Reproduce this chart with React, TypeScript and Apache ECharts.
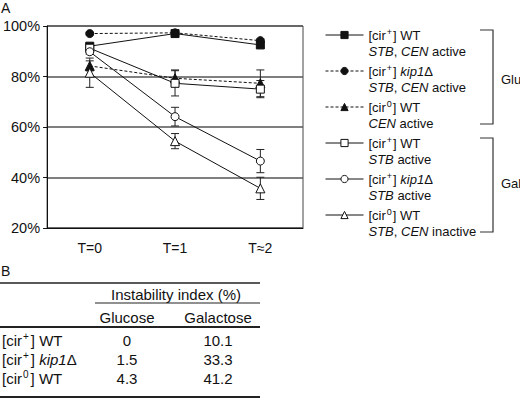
import { useEffect, useRef } from 'react';
import * as echarts from 'echarts';

const FONT = '"Liberation Sans", Arial, sans-serif';

// panel A
const timePoints = ['T=0', 'T=1', 'T≈2'];
const seriesNames = ['wtGlu', 'kipGlu', 'cir0Glu', 'wtGal', 'kipGal', 'cir0Gal'];
const wtGlu = [92, 97, 92.5];
const kipGlu = [97, 97.3, 94.2];
const cir0Glu = [84.2, 79.3, 77.3];
const wtGal = [91.2, 77.3, 75];
const kipGal = [89.8, 64.1, 46.5];
const cir0Gal = [81.5, 54.4, 35.7];
const wtGluErr = [1, 0.5, 1];
const kipGluErr = [0.5, 0.5, 0.7];
const cir0GluErr = [2, 3.3, 5.3];
const wtGalErr = [1, 5, 3.4];
const kipGalErr = [1, 3.7, 4.6];
const cir0GalErr = [5.8, 3, 4.4];

const legendFirst = [
  '[cir{sup|+}] WT',
  '[cir{sup|+}] {i|kip1}Δ',
  '[cir{sup|0}] WT',
  '[cir{sup|+}] WT',
  '[cir{sup|+}] {i|kip1}Δ',
  '[cir{sup|0}] WT',
];
const legendSecond = [
  '{i|STB}, {i|CEN} active',
  '{i|STB}, {i|CEN} active',
  '{i|CEN} active',
  '{i|STB} active',
  '{i|STB} active',
  '{i|STB}, {i|CEN} inactive',
];

// panel B
const tableRows = ['[cir{sup|+}] WT', '[cir{sup|+}] {i|kip1}Δ', '[cir{sup|0}] WT'];
const glucoseIdx = ['0', '1.5', '4.3'];
const galactoseIdx = ['10.1', '33.3', '41.2'];

export default function App() {
  const chartRef = useRef<HTMLDivElement>(null);

  useEffect(() => {
    if (!chartRef.current) return;
    const chart = echarts.init(chartRef.current, undefined, { renderer: 'svg' });

    const values = [wtGlu, kipGlu, cir0Glu, wtGal, kipGal, cir0Gal];
    const errors = [wtGluErr, kipGluErr, cir0GluErr, wtGalErr, kipGalErr, cir0GalErr];
    const symbols = ['rect', 'circle', 'triangle', 'rect', 'circle', 'triangle'];
    const filled = [true, true, true, false, false, false];
    const dashed = [false, true, true, false, false, false];

    const lineSeries = seriesNames.map((name, k) => ({
      name,
      type: 'line',
      data: values[k],
      symbol: symbols[k],
      symbolSize: symbols[k] === 'triangle' ? 9 : 8,
      showAllSymbol: true,
      z: 3,
      lineStyle: { color: '#111', width: 1, type: dashed[k] ? [3, 2] : 'solid' },
      itemStyle: {
        color: filled[k] ? '#111' : '#fff',
        borderColor: '#111',
        borderWidth: 1,
      },
      emphasis: { disabled: true },
    }));

    const errorSeries = seriesNames.map((name, k) => ({
      name: name + 'Err',
      type: 'custom',
      z: 2,
      data: values[k].map((v, i) => [i, v - errors[k][i], v + errors[k][i]]),
      encode: { x: 0, y: [1, 2] },
      renderItem: (_params: any, api: any) => {
        const lo = api.coord([api.value(0), api.value(1)]);
        const hi = api.coord([api.value(0), api.value(2)]);
        const w = 4;
        const style = { stroke: '#222', lineWidth: 1 };
        return {
          type: 'group',
          children: [
            { type: 'line', shape: { x1: lo[0], y1: lo[1], x2: hi[0], y2: hi[1] }, style },
            { type: 'line', shape: { x1: lo[0] - w, y1: lo[1], x2: lo[0] + w, y2: lo[1] }, style },
            { type: 'line', shape: { x1: hi[0] - w, y1: hi[1], x2: hi[0] + w, y2: hi[1] }, style },
          ],
        };
      },
    }));

    const txt = { fontFamily: FONT, fontSize: 15, fill: '#111' };
    const rich = {
      i: { fontFamily: FONT, fontSize: 15, fontStyle: 'italic', fill: '#111', lineHeight: 18 },
      sup: { fontFamily: FONT, fontSize: 10, fill: '#111', lineHeight: 10, verticalAlign: 'top', padding: [0, 2, 0, 1] },
    };

    const graphic: any[] = [
      { type: 'text', x: 1, y: 1, style: { ...txt, fontSize: 14, text: 'A' } },
      { type: 'text', x: 1, y: 264, style: { ...txt, fontSize: 14, text: 'B' } },
      // brackets
      {
        type: 'polyline',
        shape: { points: [[480, 30], [493, 30], [493, 124], [480, 124]] },
        style: { stroke: '#333', lineWidth: 1.2, fill: 'none' },
      },
      {
        type: 'polyline',
        shape: { points: [[480, 138], [493, 138], [493, 232], [480, 232]] },
        style: { stroke: '#333', lineWidth: 1.2, fill: 'none' },
      },
      { type: 'text', x: 501, y: 79, style: { ...txt, fontSize: 13, text: 'Glu', verticalAlign: 'middle' } },
      { type: 'text', x: 501, y: 183, style: { ...txt, fontSize: 13, text: 'Gal', verticalAlign: 'middle' } },
      // table
      { type: 'line', shape: { x1: 0, y1: 283, x2: 260, y2: 283 }, style: { stroke: '#222', lineWidth: 1.5 } },
      {
        type: 'text', x: 176, y: 294,
        style: { ...txt, text: 'Instability index (%)', align: 'center', verticalAlign: 'middle' },
      },
      { type: 'line', shape: { x1: 95, y1: 303, x2: 260, y2: 303 }, style: { stroke: '#222', lineWidth: 1.2 } },
      { type: 'text', x: 127, y: 317, style: { ...txt, text: 'Glucose', align: 'center', verticalAlign: 'middle' } },
      { type: 'text', x: 218, y: 317, style: { ...txt, text: 'Galactose', align: 'center', verticalAlign: 'middle' } },
      { type: 'line', shape: { x1: 0, y1: 327, x2: 260, y2: 327 }, style: { stroke: '#222', lineWidth: 2 } },
      { type: 'line', shape: { x1: 0, y1: 397, x2: 260, y2: 397 }, style: { stroke: '#222', lineWidth: 2 } },
    ];
    tableRows.forEach((label, r) => {
      const y = 340 + r * 19;
      graphic.push(
        { type: 'text', x: 2, y, style: { ...txt, text: label, rich, lineHeight: 18, verticalAlign: 'middle' } },
        { type: 'text', x: 127, y, style: { ...txt, text: glucoseIdx[r], align: 'center', verticalAlign: 'middle' } },
        { type: 'text', x: 218, y, style: { ...txt, text: galactoseIdx[r], align: 'center', verticalAlign: 'middle' } },
      );
    });

    chart.setOption({
      animation: false,
      textStyle: { fontFamily: FONT },
      grid: {
        left: 43,
        top: 26,
        width: 260,
        height: 202,
        show: true,
        borderColor: '#444',
        borderWidth: 1,
      },
      xAxis: {
        type: 'category',
        data: timePoints,
        boundaryGap: true,
        axisLine: { lineStyle: { color: '#111', width: 1 } },
        axisTick: { length: 5, lineStyle: { color: '#111' } },
        axisLabel: { color: '#111', fontSize: 14, margin: 13, fontFamily: FONT },
      },
      yAxis: {
        type: 'value',
        min: 20,
        max: 100,
        interval: 20,
        axisLine: { show: true, lineStyle: { color: '#111', width: 1 } },
        axisTick: { show: true, length: 4, lineStyle: { color: '#111' } },
        axisLabel: { color: '#111', fontSize: 14.5, margin: 7, formatter: '{value}%', fontFamily: FONT },
        splitLine: { lineStyle: { color: '#555', width: 1.5 } },
      },
      legend: {
        data: seriesNames,
        orient: 'vertical',
        left: 325,
        top: 11,
        padding: 0,
        itemWidth: 38,
        itemHeight: 9,
        itemGap: -12,
        selectedMode: false,
        lineStyle: { width: 1 },
        itemStyle: { borderWidth: 1 },
        formatter: (name: string) => {
          const k = seriesNames.indexOf(name);
          return legendFirst[k] + '\n' + legendSecond[k];
        },
        textStyle: {
          color: '#111',
          fontSize: 13,
          fontFamily: FONT,
          lineHeight: 16,
          padding: [16, 0, 0, 0],
          rich: {
            i: { fontSize: 13, fontFamily: FONT, fontStyle: 'italic', color: '#111', lineHeight: 16 },
            sup: {
              fontSize: 9, fontFamily: FONT, color: '#111', lineHeight: 10,
              verticalAlign: 'top', padding: [0, 1, 0, 1],
            },
          },
        },
      },
      graphic,
      series: [...errorSeries, ...lineSeries],
    });

    return () => {
      chart.dispose();
    };
  }, []);

  return (
    <div
      ref={chartRef}
      style={{ position: 'fixed', left: 0, top: 0, width: 520, height: 400, background: '#fff' }}
    />
  );
}
